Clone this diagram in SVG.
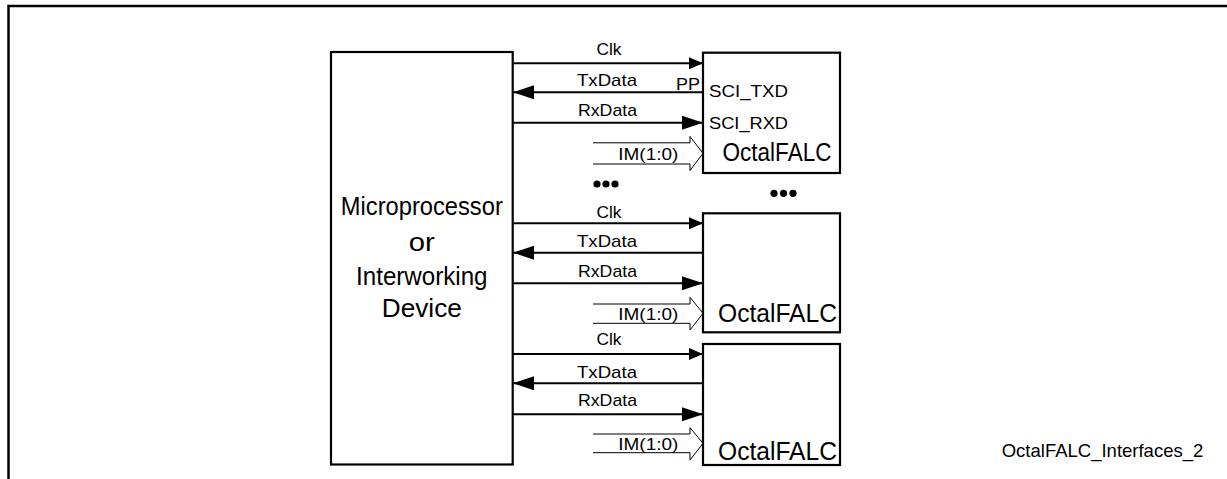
<svg xmlns="http://www.w3.org/2000/svg" width="1227" height="479" viewBox="0 0 1227 479">
<defs>
<style>
.frame{fill:none;stroke:#000;stroke-width:2.5}
.box{fill:#fff;stroke:#000;stroke-width:2.2}
.sig{fill:none;stroke:#000;stroke-width:2}
.bus{fill:none;stroke:#000;stroke-width:1}
text{font-family:"Liberation Sans",Arial,sans-serif;fill:#000}
.lbl{font-size:17px;text-anchor:middle}
.pin{font-size:17px}
.big{font-size:26px;text-anchor:middle}
.chip{font-size:26px}
</style>
<marker id="clkHead" markerUnits="userSpaceOnUse" markerWidth="14" markerHeight="12" refX="14" refY="6" orient="auto"><path d="M0,0 L14,6 L0,12 z" fill="#000"/></marker>
<marker id="dataHead" markerUnits="userSpaceOnUse" markerWidth="21" markerHeight="14" refX="21" refY="7" orient="auto"><path d="M0,0 L21,7 L0,14 z" fill="#000"/></marker>
</defs>
<rect width="1227" height="479" fill="#fff"/>
<path class="frame" d="M8.5,479 V6 H1227"/>

<g id="cpu">
<rect class="box" x="331" y="52" width="181.7" height="412.5"/>
<text class="big" x="421.8" y="215" textLength="162" lengthAdjust="spacingAndGlyphs">Microprocessor</text>
<text class="big" x="421.8" y="250.5" textLength="26" lengthAdjust="spacingAndGlyphs">or</text>
<text class="big" x="421.8" y="285" textLength="131.5" lengthAdjust="spacingAndGlyphs">Interworking</text>
<text class="big" x="421.8" y="317.3" textLength="80" lengthAdjust="spacingAndGlyphs">Device</text>
</g>

<g id="falc1">
<rect class="box" x="703" y="52.7" width="137" height="120.3"/>
<text class="pin" x="709" y="97" textLength="79" lengthAdjust="spacingAndGlyphs">SCI_TXD</text>
<text class="pin" x="709" y="129" textLength="79" lengthAdjust="spacingAndGlyphs">SCI_RXD</text>
<text class="chip" x="722.5" y="160.7" font-size="23" textLength="109" lengthAdjust="spacingAndGlyphs">OctalFALC</text>
</g>

<g id="falc2">
<rect class="box" x="703" y="213.3" width="137" height="119"/>
<text class="chip" x="718" y="321.7" textLength="119" lengthAdjust="spacingAndGlyphs">OctalFALC</text>
</g>

<g id="falc3">
<rect class="box" x="703" y="344" width="137" height="121"/>
<text class="chip" x="718" y="460" textLength="119" lengthAdjust="spacingAndGlyphs">OctalFALC</text>
</g>

<g id="connectors">
<!-- group 1 -->
<line class="sig" x1="513" y1="63.3" x2="703" y2="63.3" marker-end="url(#clkHead)"/>
<line class="sig" x1="703" y1="92.3" x2="513" y2="92.3" marker-end="url(#dataHead)"/>
<line class="sig" x1="513" y1="122.7" x2="703" y2="122.7" marker-end="url(#dataHead)"/>
<path class="bus" d="M593,142.8 H690 V136.5 L703,153.3 L690,170.5 V164 H593"/>
<text class="lbl" x="609" y="55" textLength="25" lengthAdjust="spacingAndGlyphs">Clk</text>
<text class="lbl" x="607" y="85.7" textLength="60" lengthAdjust="spacingAndGlyphs">TxData</text>
<text class="lbl" x="607.5" y="116" textLength="59" lengthAdjust="spacingAndGlyphs">RxData</text>
<text class="lbl" x="688" y="90" textLength="24" lengthAdjust="spacingAndGlyphs">PP</text>
<text class="lbl" x="648.3" y="159.5" textLength="60" lengthAdjust="spacingAndGlyphs">IM(1:0)</text>
<!-- group 2 -->
<line class="sig" x1="513" y1="223.3" x2="703" y2="223.3" marker-end="url(#clkHead)"/>
<line class="sig" x1="703" y1="252.7" x2="513" y2="252.7" marker-end="url(#dataHead)"/>
<line class="sig" x1="513" y1="283.3" x2="703" y2="283.3" marker-end="url(#dataHead)"/>
<path class="bus" d="M593,304 H690 V297.3 L703,313.3 L690,330 V323.3 H593"/>
<text class="lbl" x="609" y="218.3" textLength="25" lengthAdjust="spacingAndGlyphs">Clk</text>
<text class="lbl" x="607" y="246.7" textLength="60" lengthAdjust="spacingAndGlyphs">TxData</text>
<text class="lbl" x="607.5" y="276.7" textLength="59" lengthAdjust="spacingAndGlyphs">RxData</text>
<text class="lbl" x="648.3" y="319.5" textLength="60" lengthAdjust="spacingAndGlyphs">IM(1:0)</text>
<!-- group 3 -->
<line class="sig" x1="513" y1="354" x2="703" y2="354" marker-end="url(#clkHead)"/>
<line class="sig" x1="703" y1="383.3" x2="513" y2="383.3" marker-end="url(#dataHead)"/>
<line class="sig" x1="513" y1="414.3" x2="703" y2="414.3" marker-end="url(#dataHead)"/>
<path class="bus" d="M593,434 H690 V427.7 L703,443.3 L690,460 V452.7 H593"/>
<text class="lbl" x="609" y="345" textLength="25" lengthAdjust="spacingAndGlyphs">Clk</text>
<text class="lbl" x="607" y="378.3" textLength="60" lengthAdjust="spacingAndGlyphs">TxData</text>
<text class="lbl" x="607.5" y="406" textLength="59" lengthAdjust="spacingAndGlyphs">RxData</text>
<text class="lbl" x="648.3" y="449.5" textLength="60" lengthAdjust="spacingAndGlyphs">IM(1:0)</text>
</g>

<g id="ellipsis">
<circle cx="597" cy="184" r="3.6"/><circle cx="606" cy="184" r="3.6"/><circle cx="615" cy="184" r="3.6"/>
<circle cx="774" cy="193.3" r="3.6"/><circle cx="783.5" cy="193.3" r="3.6"/><circle cx="793" cy="193.3" r="3.6"/>
</g>

<g id="caption">
<text x="1001.7" y="456.7" font-size="19" textLength="201.6" lengthAdjust="spacingAndGlyphs">OctalFALC_Interfaces_2</text>
</g>
</svg>
